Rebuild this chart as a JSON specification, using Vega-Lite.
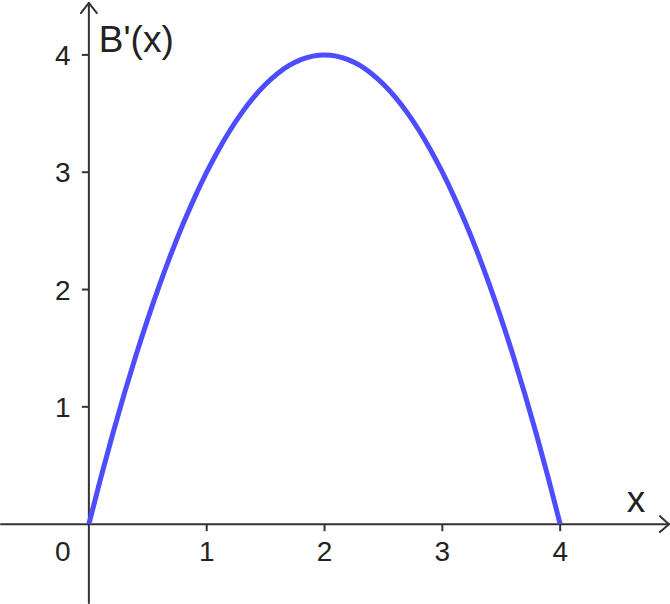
{
  "$schema": "https://vega.github.io/schema/vega-lite/v6.json",
  "width": 670,
  "height": 604,
  "padding": 0,
  "autosize": {"type": "fit", "contains": "padding"},
  "background": "white",
  "config": {"view": {"stroke": null}, "text": {"font": "Liberation Sans", "color": "#222222"}},
  "datasets": {
    "curve": [
      {"x": 0, "y": 0}, {"x": 0.1, "y": 0.39}, {"x": 0.2, "y": 0.76}, {"x": 0.3, "y": 1.11},
      {"x": 0.4, "y": 1.44}, {"x": 0.5, "y": 1.75}, {"x": 0.6, "y": 2.04}, {"x": 0.7, "y": 2.31},
      {"x": 0.8, "y": 2.56}, {"x": 0.9, "y": 2.79}, {"x": 1.0, "y": 3.0}, {"x": 1.1, "y": 3.19},
      {"x": 1.2, "y": 3.36}, {"x": 1.3, "y": 3.51}, {"x": 1.4, "y": 3.64}, {"x": 1.5, "y": 3.75},
      {"x": 1.6, "y": 3.84}, {"x": 1.7, "y": 3.91}, {"x": 1.8, "y": 3.96}, {"x": 1.9, "y": 3.99},
      {"x": 2.0, "y": 4.0}, {"x": 2.1, "y": 3.99}, {"x": 2.2, "y": 3.96}, {"x": 2.3, "y": 3.91},
      {"x": 2.4, "y": 3.84}, {"x": 2.5, "y": 3.75}, {"x": 2.6, "y": 3.64}, {"x": 2.7, "y": 3.51},
      {"x": 2.8, "y": 3.36}, {"x": 2.9, "y": 3.19}, {"x": 3.0, "y": 3.0}, {"x": 3.1, "y": 2.79},
      {"x": 3.2, "y": 2.56}, {"x": 3.3, "y": 2.31}, {"x": 3.4, "y": 2.04}, {"x": 3.5, "y": 1.75},
      {"x": 3.6, "y": 1.44}, {"x": 3.7, "y": 1.11}, {"x": 3.8, "y": 0.76}, {"x": 3.9, "y": 0.39},
      {"x": 4.0, "y": 0}
    ],
    "axes": [
      {"x1": -0.7458, "y1": 0, "x2": 4.9237, "y2": 0},
      {"x1": 0, "y1": -0.6723, "x2": 0, "y2": 4.4426},
      {"x1": 4.847, "y1": 0.068, "x2": 4.9237, "y2": 0},
      {"x1": 4.847, "y1": -0.068, "x2": 4.9237, "y2": 0},
      {"x1": -0.068, "y1": 4.357, "x2": 0, "y2": 4.4426},
      {"x1": 0.068, "y1": 4.357, "x2": 0, "y2": 4.4426}
    ],
    "ticks": [
      {"v": 1, "label": "1"}, {"v": 2, "label": "2"}, {"v": 3, "label": "3"}, {"v": 4, "label": "4"}
    ]
  },
  "layer": [
    {
      "data": {"name": "axes"},
      "mark": {"type": "rule", "stroke": "#333333", "strokeWidth": 2, "strokeCap": "round"},
      "encoding": {
        "x": {"field": "x1", "type": "quantitative", "scale": {"domain": [-0.7458, 4.9322], "nice": false, "zero": false}, "axis": null},
        "y": {"field": "y1", "type": "quantitative", "scale": {"domain": [-0.6723, 4.4681], "nice": false, "zero": false}, "axis": null},
        "x2": {"field": "x2"},
        "y2": {"field": "y2"}
      }
    },
    {
      "data": {"name": "ticks"},
      "mark": {"type": "rule", "stroke": "#333333", "strokeWidth": 2},
      "encoding": {
        "x": {"field": "v", "type": "quantitative"},
        "y": {"datum": 0, "type": "quantitative"},
        "y2": {"datum": -0.06}
      }
    },
    {
      "data": {"name": "ticks"},
      "mark": {"type": "rule", "stroke": "#333333", "strokeWidth": 2},
      "encoding": {
        "y": {"field": "v", "type": "quantitative"},
        "x": {"datum": 0, "type": "quantitative"},
        "x2": {"datum": -0.06}
      }
    },
    {
      "data": {"name": "curve"},
      "mark": {"type": "line", "stroke": "#4D4DFF", "strokeWidth": 5, "interpolate": "monotone", "clip": true},
      "encoding": {
        "x": {"field": "x", "type": "quantitative"},
        "y": {"field": "y", "type": "quantitative"}
      }
    },
    {
      "data": {"name": "ticks"},
      "mark": {"type": "text", "fontSize": 28, "align": "center", "baseline": "alphabetic", "dy": 37},
      "encoding": {
        "x": {"field": "v", "type": "quantitative"},
        "y": {"datum": 0, "type": "quantitative"},
        "text": {"field": "label"}
      }
    },
    {
      "data": {"name": "ticks"},
      "mark": {"type": "text", "fontSize": 28, "align": "center", "baseline": "alphabetic", "dx": -26, "dy": 10},
      "encoding": {
        "y": {"field": "v", "type": "quantitative"},
        "x": {"datum": 0, "type": "quantitative"},
        "text": {"field": "label"}
      }
    },
    {
      "data": {"values": [{"label": "0"}]},
      "mark": {"type": "text", "fontSize": 28, "align": "center", "baseline": "alphabetic", "dx": -26, "dy": 37},
      "encoding": {
        "x": {"datum": 0, "type": "quantitative"},
        "y": {"datum": 0, "type": "quantitative"},
        "text": {"field": "label"}
      }
    },
    {
      "data": {"values": [{"label": "B'(x)"}]},
      "mark": {"type": "text", "fontSize": 37, "align": "left", "baseline": "alphabetic", "dx": 10, "dy": -3},
      "encoding": {
        "x": {"datum": 0, "type": "quantitative"},
        "y": {"datum": 4, "type": "quantitative"},
        "text": {"field": "label"}
      }
    },
    {
      "data": {"values": [{"label": "x"}]},
      "mark": {"type": "text", "fontSize": 37, "align": "center", "baseline": "alphabetic", "dx": -33, "dy": -12},
      "encoding": {
        "x": {"datum": 4.9237, "type": "quantitative"},
        "y": {"datum": 0, "type": "quantitative"},
        "text": {"field": "label"}
      }
    }
  ]
}
